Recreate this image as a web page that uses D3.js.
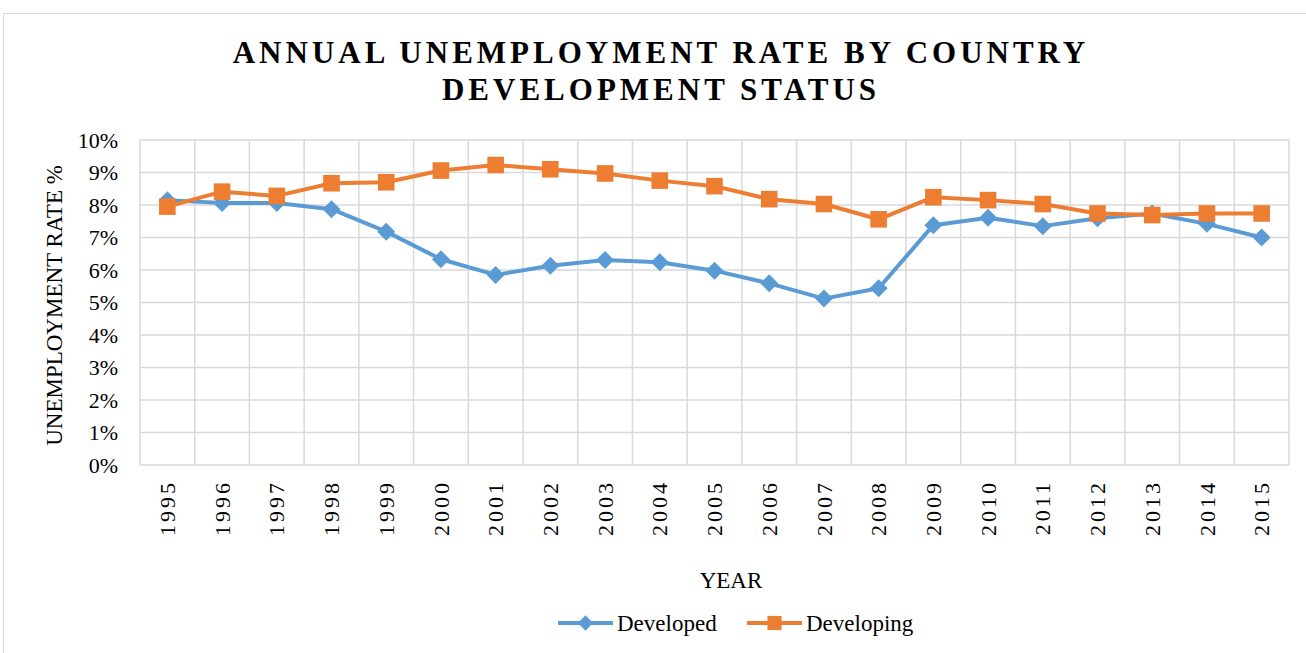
<!DOCTYPE html>
<html>
<head>
<meta charset="utf-8">
<script src="https://cdn.jsdelivr.net/npm/d3@7/dist/d3.min.js"></script>
<style>
  html, body { margin: 0; padding: 0; background: #fff; }
  svg { display: block; }
  text { font-family: "Liberation Serif", "Times New Roman", serif; fill: #000; }
</style>
</head>
<body>
<svg id="chart" width="1306" height="653"></svg>
<script>
// Annual unemployment rate (%) by country development status
const years = ["1995","1996","1997","1998","1999","2000","2001","2002","2003","2004","2005",
               "2006","2007","2008","2009","2010","2011","2012","2013","2014","2015"];
const developed  = [8.15, 8.06, 8.06, 7.87, 7.18, 6.33, 5.85, 6.13, 6.31, 6.24, 5.98,
                    5.59, 5.12, 5.44, 7.38, 7.61, 7.35, 7.59, 7.74, 7.42, 7.00];
const developing = [7.95, 8.41, 8.28, 8.67, 8.70, 9.06, 9.23, 9.10, 8.97, 8.75, 8.58,
                    8.18, 8.03, 7.56, 8.24, 8.15, 8.03, 7.74, 7.69, 7.74, 7.74];
const yTicks = [0, 1, 2, 3, 4, 5, 6, 7, 8, 9, 10];
const titleLines = ["ANNUAL UNEMPLOYMENT RATE BY COUNTRY", "DEVELOPMENT STATUS"];

const BLUE = "#5B9BD5", ORANGE = "#ED7D31", GRID = "#D9D9D9";

const svg = d3.select("#chart");

// outer chart frame
svg.append("rect").attr("x", 3.5).attr("y", 13.5).attr("width", 1310).attr("height", 660)
  .attr("fill", "none").attr("stroke", "#D9D9D9").attr("stroke-width", 1);

const plot = { left: 140, right: 1289, top: 140, bottom: 465 };

const x = d3.scaleBand().domain(years).range([plot.left, plot.right]).padding(0);
const y = d3.scaleLinear().domain([0, 10]).range([plot.bottom, plot.top]);

// title
svg.append("g").selectAll("text").data(titleLines).join("text")
  .attr("x", 661).attr("y", (d, i) => 63 + i * 37)
  .attr("text-anchor", "middle")
  .style("font-size", "31px").style("font-weight", "bold").style("letter-spacing", "4px")
  .text(d => d);

// horizontal grid
const grid = svg.append("g");
grid.selectAll("line.h").data(yTicks).join("line").attr("class", "h")
  .attr("x1", plot.left).attr("x2", plot.right)
  .attr("y1", d => y(d)).attr("y2", d => y(d))
  .attr("stroke", GRID).attr("stroke-width", 1.5);
// vertical grid at category boundaries
const bounds = years.map(d => x(d)).concat([x(years[years.length - 1]) + x.bandwidth()]);
grid.selectAll("line.v").data(bounds).join("line").attr("class", "v")
  .attr("x1", d => d).attr("x2", d => d)
  .attr("y1", plot.top).attr("y2", plot.bottom)
  .attr("stroke", GRID).attr("stroke-width", 1.5);

// y axis labels
const yAxis = d3.axisLeft(y).tickValues(yTicks).tickFormat(d => d + "%").tickSize(0).tickPadding(22);
const yg = svg.append("g").attr("transform", `translate(${plot.left},0)`).call(yAxis);
yg.select(".domain").remove();
yg.attr("font-family", null);
yg.selectAll("text").style("font-size", "22px").style("font-family", "Liberation Serif, serif").attr("fill", "#000");

// x axis labels (rotated)
const xg = svg.append("g");
xg.selectAll("text").data(years).join("text")
  .attr("transform", d => `translate(${x(d) + x.bandwidth() / 2},${plot.bottom + 15}) rotate(-90)`)
  .attr("dy", "0.35em")
  .attr("text-anchor", "end")
  .style("font-size", "22px").style("letter-spacing", "3px")
  .text(d => d);

// axis titles
svg.append("text")
  .attr("transform", `translate(62,${(plot.top + plot.bottom) / 2 + 3}) rotate(-90)`)
  .attr("text-anchor", "middle").style("font-size", "23px")
  .text("UNEMPLOYMENT RATE %");
svg.append("text").attr("x", 731).attr("y", 588).attr("text-anchor", "middle")
  .style("font-size", "23px").text("YEAR");

// marker shapes: a wide diamond (rotated square) and a square
const diamond = r => `M0,${-r}L${r},0L0,${r}L${-r},0Z`;
const square = r => `M${-r},${-r}H${r}V${r}H${-r}Z`;

const series = [
  { name: "Developed", values: developed, color: BLUE, shape: diamond, r: 9 },
  { name: "Developing", values: developing, color: ORANGE, shape: square, r: 8.3 }
];
const line = d3.line().x((d, i) => x(years[i]) + x.bandwidth() / 2).y(d => y(d));

series.forEach(s => {
  const g = svg.append("g");
  g.append("path").datum(s.values).attr("d", line)
    .attr("fill", "none").attr("stroke", s.color).attr("stroke-width", 4)
    .attr("stroke-linejoin", "round");
  g.selectAll("path.m").data(s.values).join("path").attr("class", "m")
    .attr("transform", (d, i) => `translate(${x(years[i]) + x.bandwidth() / 2},${y(d)})`)
    .attr("d", s.shape(s.r))
    .attr("fill", s.color);
});

// legend
const legendX = [558, 747];
series.forEach((s, i) => {
  const g = svg.append("g").attr("transform", `translate(${legendX[i]},623)`);
  g.append("line").attr("x1", 0).attr("x2", 55).attr("stroke", s.color).attr("stroke-width", 4);
  g.append("path").attr("transform", "translate(27.5,0)")
    .attr("d", s.shape(s.r * 0.85)).attr("fill", s.color);
  g.append("text").attr("x", 59).attr("y", 8).style("font-size", "23px").text(s.name);
});
</script>
</body>
</html>
